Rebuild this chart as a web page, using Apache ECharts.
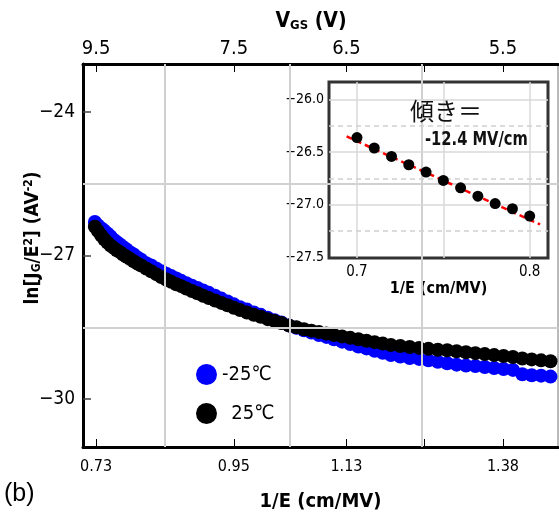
<!DOCTYPE html>
<html>
<head>
<meta charset="utf-8">
<script src="https://cdn.jsdelivr.net/npm/echarts@6/dist/echarts.min.js"></script>
<style>
  html, body { margin: 0; padding: 0; background: #fff; }
  #chart { width: 559px; height: 517px; }
</style>
</head>
<body>
<div id="chart"></div>
<script>
// Fowler–Nordheim plot: ln[J_G/E^2] against 1/E at two temperatures
const FONT = '"Liberation Sans Narrow", "DejaVu Sans Condensed", "Liberation Sans", sans-serif';

// 1/E (cm/MV) of each measured point
const invE = [
  0.728, 0.733, 0.738, 0.743, 0.748, 0.753, 0.758, 0.763, 0.768, 0.773, 0.778, 0.784, 0.790, 0.796, 0.802,
  0.810, 0.818, 0.826, 0.834, 0.842, 0.850, 0.858, 0.866, 0.874, 0.883, 0.892, 0.901, 0.910, 0.920, 0.930,
  0.940, 0.950, 0.960, 0.971, 0.982, 0.993, 1.004, 1.015, 1.026, 1.038, 1.050, 1.062, 1.074, 1.086, 1.098,
  1.110, 1.123, 1.136, 1.149, 1.162, 1.175, 1.188, 1.201, 1.216, 1.231, 1.246, 1.261, 1.276, 1.291, 1.306,
  1.321, 1.336, 1.351, 1.366, 1.381, 1.396, 1.411, 1.426, 1.441, 1.456, 1.471
];
// ln[J_G/E^2] at -25 °C
const lnCold = [
  -26.30, -26.37, -26.43, -26.48, -26.54, -26.60, -26.67, -26.72, -26.77, -26.82, -26.87, -26.93, -26.98, -27.04, -27.09,
  -27.16, -27.21, -27.27, -27.33, -27.38, -27.43, -27.48, -27.53, -27.58, -27.63, -27.68, -27.73, -27.78, -27.84, -27.90,
  -27.96, -28.02, -28.08, -28.13, -28.19, -28.24, -28.30, -28.35, -28.40, -28.46, -28.51, -28.56, -28.61, -28.66, -28.70,
  -28.75, -28.80, -28.85, -28.90, -28.94, -28.99, -29.03, -29.08, -29.11, -29.14, -29.16, -29.19, -29.22, -29.25, -29.28,
  -29.30, -29.31, -29.33, -29.35, -29.37, -29.39, -29.48, -29.50, -29.51, -29.53, -29.54
];
// ln[J_G/E^2] at 25 °C
const lnWarm = [
  -26.40, -26.49, -26.58, -26.66, -26.73, -26.79, -26.84, -26.89, -26.93, -26.98, -27.02, -27.07, -27.12, -27.17, -27.21,
  -27.27, -27.33, -27.39, -27.45, -27.50, -27.55, -27.60, -27.64, -27.69, -27.74, -27.79, -27.84, -27.89, -27.94, -27.99,
  -28.04, -28.09, -28.14, -28.19, -28.24, -28.28, -28.33, -28.37, -28.41, -28.46, -28.50, -28.54, -28.57, -28.60, -28.63,
  -28.66, -28.69, -28.72, -28.75, -28.78, -28.81, -28.84, -28.87, -28.89, -28.91, -28.93, -28.95, -28.97, -28.98, -29.00,
  -29.02, -29.04, -29.06, -29.08, -29.10, -29.12, -29.15, -29.17, -29.19, -29.21, -29.23
];
const seriesNames = ['-25℃', '25℃'];

// main axes
const xRange = [0.709, 1.468];
const xLabelValues = [0.73, 0.95, 1.13, 1.38];
const xLabelTexts = ['0.73', '0.95', '1.13', '1.38'];
const xMidValues = [0.84, 1.04, 1.255];
const vgsLabelTexts = ['9.5', '7.5', '6.5', '5.5'];
const yRange = [-31, -23];
const yLabelValues = [-30, -27, -24];
const yMidValues = [-28.5, -25.5];

// inset: 25 °C points used for the slope fit
const insetInvE = [0.70, 0.71, 0.72, 0.73, 0.74, 0.75, 0.76, 0.77, 0.78, 0.79, 0.80];
const insetLn = [-26.36, -26.46, -26.54, -26.62, -26.69, -26.77, -26.84, -26.92, -26.99, -27.04, -27.11];
const fitLineX = [0.694, 0.806];
const fitLineY = [-26.35, -27.19];
const insetXRange = [0.6838, 0.8106];
const insetYRange = [-27.51, -25.83];
const insetXLabelValues = [0.7, 0.8];
const insetXGrid = [0.7, 0.75, 0.8];
const insetYLabelValues = [-27.5, -27.0, -26.5, -26.0];
const insetYGrid = [-27.0, -26.5, -26.0];
const insetYDashed = [-27.25, -26.75, -26.25];

const minusFmt = (d) => (v) => (v < 0 ? '\u2212' : '') + Math.abs(v).toFixed(d);
const pairs = (xs, ys) => xs.map((x, i) => [x, ys[i]]);
const pickLabel = (values, texts) => (v) => {
  const i = values.findIndex((t) => Math.abs(t - v) < 1e-6);
  return i >= 0 ? texts[i] : '';
};

const chart = echarts.init(document.getElementById('chart'), null, { renderer: 'canvas' });

const gridSolid = { color: '#d0d0d0', width: 2, type: 'solid' };

chart.setOption({
  animation: false,
  backgroundColor: '#fff',
  textStyle: { fontFamily: FONT },
  grid: [
    { left: 83, top: 64, width: 475, height: 384, show: true, borderColor: '#777', borderWidth: 1, backgroundColor: 'transparent' },
    { left: 329, top: 82, width: 219, height: 176, show: true, borderColor: '#333', borderWidth: 3, backgroundColor: '#fff', z: 5 }
  ],
  legend: {
    data: seriesNames,
    orient: 'vertical',
    left: 191,
    top: 359,
    itemWidth: 21,
    itemHeight: 21,
    itemGap: 18,
    icon: 'circle',
    formatter: (n) => (n === '25℃' ? '\u2009 ' + n : n),
    textStyle: { fontFamily: FONT, fontSize: 20, color: '#000' }
  },
  xAxis: [
    {
      type: 'value', gridIndex: 0, position: 'bottom', min: xRange[0], max: xRange[1],
      axisLine: { show: true, onZero: false, lineStyle: { color: '#000', width: 3 } },
      axisTick: { show: true, inside: true, length: 8, customValues: xLabelValues.concat(xMidValues), lineStyle: { color: '#000', width: 1 } },
      axisLabel: { customValues: xLabelValues, formatter: pickLabel(xLabelValues, xLabelTexts), fontFamily: FONT, fontSize: 16, color: '#000', margin: 12 },
      splitLine: { show: false },
      name: '1/E (cm/MV)', nameLocation: 'middle', nameGap: 45,
      nameTextStyle: { fontFamily: FONT, fontSize: 20, fontWeight: 'bold', color: '#000' }
    },
    {
      type: 'value', gridIndex: 0, position: 'top', min: xRange[0], max: xRange[1],
      axisLine: { show: true, onZero: false, lineStyle: { color: '#000', width: 3 } },
      axisTick: { show: true, inside: true, length: 8, customValues: xLabelValues.concat(xMidValues), lineStyle: { color: '#000', width: 1 } },
      axisLabel: { customValues: xLabelValues, formatter: pickLabel(xLabelValues, vgsLabelTexts), fontFamily: FONT, fontSize: 20, color: '#000', margin: 5 },
      splitLine: { show: false }
    },
    {
      type: 'value', gridIndex: 1, min: insetXRange[0], max: insetXRange[1],
      axisLine: { show: false }, axisTick: { show: false },
      axisLabel: { customValues: insetXLabelValues, formatter: (v) => v.toFixed(1), fontFamily: FONT, fontSize: 15, color: '#000', margin: 7 },
      splitLine: { show: false },
      name: '1/E (cm/MV)', nameLocation: 'middle', nameGap: 10,
      nameTextStyle: { fontFamily: FONT, fontSize: 16, fontWeight: 'bold', color: '#000', verticalAlign: 'top' }
    }
  ],
  yAxis: [
    {
      type: 'value', gridIndex: 0, min: yRange[0], max: yRange[1],
      axisLine: { show: true, onZero: false, lineStyle: { color: '#000', width: 3 } },
      axisTick: { show: true, inside: true, length: 8, customValues: yLabelValues, lineStyle: { color: '#444', width: 1.5 } },
      axisLabel: { customValues: yLabelValues, formatter: minusFmt(0), fontFamily: FONT, fontSize: 19, color: '#000', margin: 8 },
      splitLine: { show: false }
    },
    {
      type: 'value', gridIndex: 1, min: insetYRange[0], max: insetYRange[1],
      axisLine: { show: false }, axisTick: { show: false },
      axisLabel: { customValues: insetYLabelValues, formatter: minusFmt(1), fontFamily: FONT, fontSize: 14, color: '#000', margin: 5 },
      splitLine: { show: false }
    }
  ],
  series: [
    {
      // main grid lines between labelled ticks
      type: 'line', xAxisIndex: 0, yAxisIndex: 0, data: [], z: 1, silent: true,
      markLine: {
        silent: true, symbol: 'none', label: { show: false }, lineStyle: gridSolid, animation: false,
        data: xMidValues.map((v) => ({ xAxis: v })).concat(yMidValues.map((v) => ({ yAxis: v })))
      }
    },
    {
      name: seriesNames[0], type: 'scatter', xAxisIndex: 0, yAxisIndex: 0, z: 2,
      symbol: 'circle', symbolSize: 14, itemStyle: { color: '#0000ff', opacity: 1 },
      data: pairs(invE, lnCold)
    },
    {
      name: seriesNames[1], type: 'scatter', xAxisIndex: 0, yAxisIndex: 0, z: 3,
      symbol: 'circle', symbolSize: 14, itemStyle: { color: '#000', opacity: 1 },
      data: pairs(invE, lnWarm)
    },
    {
      // inset grid lines
      type: 'line', xAxisIndex: 2, yAxisIndex: 1, data: [], z: 6, silent: true,
      markLine: {
        silent: true, symbol: 'none', label: { show: false }, animation: false,
        data: insetXGrid.map((v) => ({ xAxis: v, lineStyle: { color: '#d8d8d8', width: 1.5, type: 'solid' } }))
          .concat(insetYGrid.map((v) => ({ yAxis: v, lineStyle: { color: '#d8d8d8', width: 1.5, type: 'solid' } })))
          .concat(insetYDashed.map((v) => ({ yAxis: v, lineStyle: { color: '#cfcfcf', width: 1.5, type: [5, 4] } })))
      }
    },
    {
      type: 'line', xAxisIndex: 2, yAxisIndex: 1, z: 7, silent: true,
      symbol: 'none', lineStyle: { color: '#ff0000', width: 2.5, type: [6, 4] },
      data: pairs(fitLineX, fitLineY)
    },
    {
      type: 'scatter', xAxisIndex: 2, yAxisIndex: 1, z: 8,
      symbol: 'circle', symbolSize: 11, itemStyle: { color: '#000', opacity: 1 },
      data: pairs(insetInvE, insetLn)
    }
  ],
  graphic: [
    {
      type: 'text', x: 311, y: 22, z: 10,
      style: {
        text: '{b|V}{s|GS}{b| (V)}', align: 'center', verticalAlign: 'middle',
        rich: {
          b: { fontFamily: FONT, fontSize: 21, fontWeight: 'bold', fill: '#000' },
          s: { fontFamily: FONT, fontSize: 13, fontWeight: 'bold', fill: '#000', padding: [8, 0, 0, 0] }
        }
      }
    },
    {
      type: 'text', x: 33, y: 238, rotation: Math.PI / 2, z: 10,
      style: {
        text: '{b|ln[J}{s|G}{b|/E}{p|2}{b|] (AV}{p|-2}{b|)}', align: 'center', verticalAlign: 'middle',
        rich: {
          b: { fontFamily: FONT, fontSize: 19, fontWeight: 'bold', fill: '#000' },
          s: { fontFamily: FONT, fontSize: 12, fontWeight: 'bold', fill: '#000', padding: [8, 0, 0, 0] },
          p: { fontFamily: FONT, fontSize: 12, fontWeight: 'bold', fill: '#000', padding: [0, 0, 8, 0] }
        }
      }
    },
    {
      type: 'text', left: 4, top: 482, z: 10,
      style: { text: '(b)', fontFamily: '"Liberation Sans", Arial, sans-serif', fontSize: 25, fill: '#000' }
    },
    {
      type: 'text', left: 410, top: 99, z: 10,
      style: { text: '傾き＝', fontFamily: '"Noto Sans CJK JP", sans-serif', fontSize: 24, fill: '#111' }
    },
    {
      type: 'text', x: 425, y: 140, scaleX: 0.86, z: 10,
      style: { text: '-12.4 MV/cm', fontFamily: FONT, fontSize: 19, fontWeight: 'bold', fill: '#111', align: 'left', verticalAlign: 'middle' }
    }
  ]
});
</script>
</body>
</html>
